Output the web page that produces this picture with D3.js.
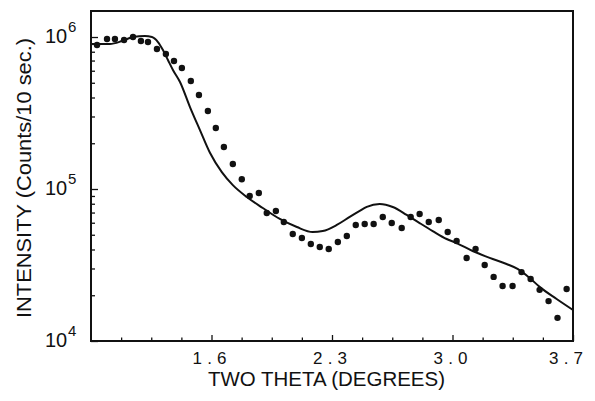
<!DOCTYPE html>
<html lang="en">
<head>
    <meta charset="UTF-8">
    <script src="https://d3js.org/d3.v7.min.js"></script>
    <style>
        body { margin: 0; background: #fff; }
        .tick-label { font: 17px "Liberation Sans", Arial, sans-serif; fill: #111; }
        .exp-label { font: 20px "Liberation Sans", Arial, sans-serif; fill: #111; }
        .axis-title { font: 20px "Liberation Sans", Arial, sans-serif; fill: #111; }
    </style>
    <title>Intensity vs two theta</title>
</head>
<body>
<div id="chart"></div>
<script>
// measured points (dots)
const thetaObs = [0.935, 0.993, 1.039, 1.092, 1.144, 1.190, 1.231, 1.283, 1.335, 1.382,
    1.428, 1.480, 1.527, 1.579, 1.625, 1.672, 1.724, 1.776, 1.822, 1.875,
    1.921, 1.974, 2.020, 2.072, 2.125, 2.177, 2.229, 2.281, 2.334, 2.386,
    2.438, 2.490, 2.542, 2.595, 2.647, 2.705, 2.757, 2.809, 2.862, 2.920,
    2.972, 3.024, 3.082, 3.134, 3.187, 3.239, 3.291, 3.349, 3.401, 3.454,
    3.506, 3.558, 3.610, 3.663];
const intensityObs = [8.86e5, 9.70e5, 9.70e5, 9.56e5, 1.00e6, 9.41e5, 9.27e5, 8.34e5, 7.73e5, 6.95e5,
    6.25e5, 5.14e5, 4.15e5, 3.26e5, 2.52e5, 1.89e5, 1.46e5, 1.16e5, 9.0e4, 9.41e4,
    6.95e4, 7.17e4, 6.07e4, 5.06e4, 4.76e4, 4.35e4, 4.15e4, 4.03e4, 4.48e4, 4.91e4,
    5.80e4, 5.89e4, 5.89e4, 6.55e4, 5.97e4, 5.54e4, 6.55e4, 6.85e4, 6.07e4, 6.25e4,
    5.21e4, 4.55e4, 3.52e4, 4.03e4, 3.16e4, 2.64e4, 2.30e4, 2.30e4, 2.84e4, 2.56e4,
    2.17e4, 1.83e4, 1.42e4, 2.20e4];

// fitted curve (solid line)
const thetaFit = [0.900, 1.010, 1.080, 1.144, 1.213, 1.254, 1.289, 1.318, 1.347, 1.376,
    1.417, 1.475, 1.533, 1.591, 1.660, 1.724, 1.805, 1.898, 1.997, 2.096,
    2.188, 2.246, 2.328, 2.403, 2.461, 2.502, 2.577, 2.653, 2.734, 2.809,
    2.885, 2.966, 3.024, 3.117, 3.216, 3.314, 3.378, 3.448, 3.506, 3.605, 3.700];
const intensityFit = [8.99e5, 9.0e5, 9.41e5, 1.0e6, 1.015e6, 1.0e6, 9.27e5, 8.21e5, 7.06e5, 6.07e5,
    5.06e5, 3.46e5, 2.44e5, 1.73e5, 1.29e5, 1.06e5, 8.86e4, 7.50e4, 6.35e4, 5.62e4,
    5.21e4, 5.29e4, 5.80e4, 6.55e4, 7.17e4, 7.62e4, 7.97e4, 7.62e4, 6.75e4, 5.97e4,
    5.29e4, 4.69e4, 4.41e4, 3.91e4, 3.52e4, 3.21e4, 2.98e4, 2.60e4, 2.27e4, 1.89e4, 1.60e4];

// ticks
const xMajorTicks = [1.6, 2.3, 3.0, 3.7];
const xTickLabels = ["1.6", "2.3", "3.0", "3.7"];
const xMinorTicks = [1.075, 1.25, 1.425, 1.775, 1.95, 2.125, 2.475, 2.65, 2.825, 3.175, 3.35, 3.525];
const yMajorTicks = [1e4, 1e5, 1e6];
const yTickExponents = ["4", "5", "6"];
const yMinorTicks = [2e4, 3e4, 4e4, 5e4, 6e4, 7e4, 8e4, 9e4, 2e5, 3e5, 4e5, 5e5, 6e5, 7e5, 8e5, 9e5];

const width = 595, height = 401;
const plot = { left: 91, right: 573, top: 11, bottom: 341 };

const svg = d3.select("#chart").append("svg")
    .attr("width", width)
    .attr("height", height);

const xScale = d3.scaleLinear()
    .domain([0.9, 3.7])
    .range([plot.left, plot.right]);

const yScale = d3.scaleLog()
    .domain([1e4, 1.483e6])
    .range([plot.bottom, plot.top]);

// inward ticks
const xMinorAxis = d3.axisBottom(xScale).tickValues(xMinorTicks).tickSize(-3.5).tickFormat("");
const xMajorAxis = d3.axisBottom(xScale).tickValues(xMajorTicks).tickSize(-6).tickFormat("");
const yMinorAxis = d3.axisLeft(yScale).tickValues(yMinorTicks).tickSize(-4).tickFormat("");
const yMajorAxis = d3.axisLeft(yScale).tickValues(yMajorTicks).tickSize(-7).tickFormat("");

[[xMinorAxis, `translate(0,${plot.bottom})`], [xMajorAxis, `translate(0,${plot.bottom})`],
 [yMinorAxis, `translate(${plot.left},0)`], [yMajorAxis, `translate(${plot.left},0)`]]
    .forEach(([ax, tr]) => {
        const g = svg.append("g").attr("transform", tr).call(ax);
        g.select(".domain").remove();
        g.selectAll("line").attr("stroke", "#111").attr("stroke-width", 1.3);
    });

// frame
svg.append("rect")
    .attr("x", plot.left)
    .attr("y", plot.top)
    .attr("width", plot.right - plot.left)
    .attr("height", plot.bottom - plot.top)
    .attr("fill", "none")
    .attr("stroke", "#111")
    .attr("stroke-width", 2);

// x tick labels
svg.selectAll(".xlab")
    .data(xMajorTicks)
    .join("text")
    .attr("class", "tick-label")
    .attr("x", (d, i) => xScale(d) - (i === 3 ? 5 : 0) - 19)
    .attr("y", 364)
    .attr("textLength", 34)
    .attr("lengthAdjust", "spacing")
    .text((d, i) => xTickLabels[i]);

// y tick labels: 10^n
yMajorTicks.forEach((d, i) => {
    const y = yScale(d);
    svg.append("text")
        .attr("class", "exp-label")
        .attr("x", 45)
        .attr("y", y + 6)
        .attr("textLength", 22)
        .attr("lengthAdjust", "spacing")
        .text("10");
    svg.append("text")
        .attr("class", "exp-label")
        .style("font-size", "15px")
        .attr("x", 68)
        .attr("y", y - 5)
        .text(yTickExponents[i]);
});

// axis titles
svg.append("text")
    .attr("class", "axis-title")
    .attr("x", 208)
    .attr("y", 386)
    .attr("textLength", 237)
    .attr("lengthAdjust", "spacingAndGlyphs")
    .text("TWO THETA (DEGREES)");

svg.append("text")
    .attr("class", "axis-title")
    .attr("transform", "translate(31,318) rotate(-90)")
    .attr("x", 0)
    .attr("y", 0)
    .attr("textLength", 280)
    .attr("lengthAdjust", "spacingAndGlyphs")
    .text("INTENSITY (Counts/10 sec.)");

// fitted curve
const fitData = thetaFit.map((t, i) => ({ t, v: intensityFit[i] }));
const lineGenerator = d3.line()
    .x(d => xScale(d.t))
    .y(d => yScale(d.v))
    .curve(d3.curveMonotoneX);

svg.append("path")
    .datum(fitData)
    .attr("d", lineGenerator)
    .attr("fill", "none")
    .attr("stroke", "#111")
    .attr("stroke-width", 2);

// observed dots
const obsData = thetaObs.map((t, i) => ({ t, v: intensityObs[i] }));
svg.selectAll(".dot")
    .data(obsData)
    .join("circle")
    .attr("class", "dot")
    .attr("cx", d => xScale(d.t))
    .attr("cy", d => yScale(d.v))
    .attr("r", 3.2)
    .attr("fill", "#111");
</script>
</body>
</html>
